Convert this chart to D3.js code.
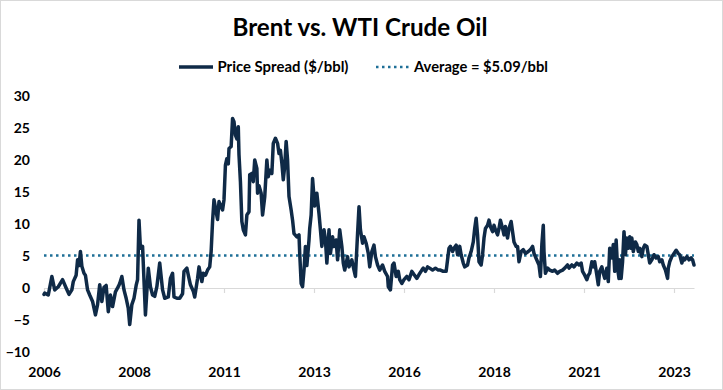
<!DOCTYPE html>
<html>
<head>
<meta charset="utf-8">
<script src="https://cdn.jsdelivr.net/npm/d3@7"></script>
<style>
  html, body { margin: 0; padding: 0; background: #fff; }
  svg text { font-family: Lato, "Open Sans", sans-serif; font-weight: bold; }
</style>
</head>
<body>
<svg id="chart" width="723" height="390"></svg>
<script>
// ---- Data (weekly index since the first week of January 2006) ----
const startDate = "2006-01-06";
const weeks = [
  0,1,6,11,15,20,26,31,35,39,
  41,45,47,49,51,53,56,58,61,64,
  68,72,75,78,81,84,87,90,93,96,
  100,104,106,109,112,115,118,120,123,126,
  129,131,133,135,138,142,146,149,152,155,
  158,162,166,169,174,177,180,182,186,190,
  194,196,200,203,205,209,211,215,217,221,
  223,226,229,232,234,236,238,241,243,245,
  248,250,252,254,256,258,259,262,264,266,
  268,270,272,273,275,277,279,282,284,287,
  288,291,293,295,298,299,301,304,306,309,
  312,314,316,319,321,324,327,329,331,333,
  335,337,339,341,343,346,348,350,354,357,
  358,360,362,364,366,368,371,372,374,376,
  379,382,385,387,389,392,394,396,399,401,
  404,406,409,411,414,417,419,421,425,427,
  431,434,436,439,441,443,446,448,451,454,
  456,459,462,464,467,470,474,477,481,482,
  485,488,490,493,496,498,501,504,508,511,
  515,518,522,525,529,531,534,537,540,544,
  548,552,555,559,563,565,567,569,572,574,
  577,579,582,584,587,589,593,595,598,601,
  603,605,607,609,612,614,616,618,621,623,
  625,628,630,632,635,637,639,642,644,646,
  649,651,654,656,658,661,663,665,668,671,
  674,678,681,684,686,689,691,693,695,697,
  699,700,702,705,708,712,715,719,722,726,
  729,733,735,739,742,746,749,752,754,757,
  760,762,764,767,769,771,774,776,778,781,
  783,785,788,790,792,795,797,799,801,803,
  805,806,808,810,812,814,816,818,820,822,
  823,825,828,830,832,834,837,839,841,844,
  846,848,851,854,857,860,862,865,867,870,
  873,874,876,879,882,885,888,890,893,895,
  897,900,903,906,908,910
];
const spread = [
  -1.0,-0.8,-1.1,1.8,-0.3,0.2,1.3,0.0,-1.0,-0.3,
  1.0,2.0,4.4,3.5,5.7,3.4,2.3,2.0,-0.3,-1.1,
  -2.1,-4.2,-2.6,0.5,-2.1,0.1,0.4,-3.7,-1.1,-2.9,
  -0.6,0.2,0.7,1.8,-0.3,-1.6,-3.2,-5.7,-2.6,-1.6,
  0.4,1.3,10.6,6.2,6.5,-4.2,3.1,0.2,-1.1,-1.3,
  0.2,3.9,-0.3,-1.6,-1.4,1.5,2.3,-1.4,-1.6,-1.6,
  -0.9,2.6,3.1,1.5,0.5,-0.5,-1.4,1.5,3.3,1.0,
  2.3,2.0,2.8,3.3,5.7,10.4,13.8,11.9,10.7,13.5,
  12.7,12.2,13.8,19.2,20.2,19.4,21.8,22.1,26.5,26.0,
  23.9,23.3,25.2,20.8,16.6,10.4,9.1,8.3,11.4,11.9,
  17.7,17.9,16.6,20.0,18.7,14.8,16.0,14.8,11.4,14.2,
  20.0,17.4,18.4,17.9,22.6,23.4,22.6,21.0,21.5,19.5,
  16.9,19.0,22.9,20.0,14.3,12.2,10.6,8.5,8.0,8.3,
  5.4,0.7,0.2,2.8,6.5,3.5,7.5,9.3,11.4,17.1,
  12.8,14.8,11.6,9.1,6.5,9.1,7.5,3.9,9.1,5.4,
  8.0,6.5,7.5,4.4,9.1,6.5,3.9,2.8,4.9,3.3,
  4.4,2.8,1.8,8.5,12.7,9.1,7.0,8.0,7.0,5.4,
  3.3,5.7,6.7,4.9,3.6,2.8,3.6,2.6,1.8,0.2,
  -0.3,3.6,3.9,1.8,2.6,1.3,0.7,1.3,1.8,1.3,
  2.6,2.1,1.5,2.1,2.8,3.1,2.6,3.3,3.1,2.8,
  3.1,2.8,2.8,2.6,2.6,4.4,6.2,6.5,5.7,6.2,
  6.7,5.2,6.5,5.2,3.9,3.3,3.6,4.7,5.7,7.2,
  9.3,10.9,8.3,4.1,3.6,5.2,7.8,9.3,9.8,10.6,
  9.6,8.8,9.8,9.1,8.3,9.3,10.6,9.3,8.3,9.6,
  7.8,9.3,10.4,8.8,7.2,6.5,6.5,4.1,5.7,6.0,
  5.4,5.7,6.0,6.5,5.4,4.6,4.1,3.6,1.8,6.8,
  9.8,5.7,2.3,3.1,2.8,2.6,2.8,2.3,2.6,2.8,
  3.1,3.6,3.1,3.6,3.3,3.9,3.6,3.9,2.6,2.0,
  1.3,2.0,2.3,4.1,3.3,4.1,2.0,0.5,2.6,3.3,
  2.3,1.5,3.1,1.0,6.2,4.7,6.8,2.6,7.5,3.1,
  1.5,4.4,1.5,4.1,8.8,5.2,7.8,6.2,8.0,6.2,
  7.8,5.7,7.2,6.8,5.7,6.2,4.9,6.2,6.7,6.5,
  5.2,3.9,4.4,5.2,4.7,4.9,4.1,4.4,3.6,2.8,
  1.5,3.1,4.1,4.9,5.4,5.9,5.4,5.2,3.9,4.7,
  4.4,4.9,4.4,4.7,4.4,3.6
];
const average = 5.09;
const yTicks = [-10, -5, 0, 5, 10, 15, 20, 25, 30];
const xTickWeeks = [0, 126, 252, 378, 504, 630, 756, 882];
const xTickLabels = ["2006", "2008", "2011", "2013", "2016", "2018", "2021", "2023"];
const titleText = "Brent vs. WTI Crude Oil";
const seriesName = "Price Spread ($/bbl)";
const averageName = "Average = $" + average.toFixed(2) + "/bbl";

// ---- Drawing ----
const W = 723, H = 390;
const lineColor = "#0f2a47";
const avgColor = "#1e6f97";
const svg = d3.select("#chart");

svg.append("rect").attr("x", 0.5).attr("y", 0.5).attr("width", W - 1).attr("height", H - 1)
  .attr("fill", "#fff").attr("stroke", "#d9d9d9");

const x = d3.scaleLinear().domain([0, 910]).range([44, 694]);
const y = d3.scaleLinear().domain([-10, 30]).range([352, 96]);

// fit a text element's font size so its width matches a target width
function fitWidth(sel, target) {
  const fs = +sel.attr("font-size");
  const w = sel.node().getComputedTextLength();
  if (w > 0) sel.attr("font-size", (fs * target / w).toFixed(2));
}

// Title
const title = svg.append("text").attr("x", 360).attr("y", 36).attr("text-anchor", "middle")
  .attr("font-size", 24).attr("fill", "#000").text(titleText);
fitWidth(title, 255);

// Legend
const leg = svg.append("g");
leg.append("line").attr("x1", 179).attr("x2", 213).attr("y1", 67).attr("y2", 67)
  .attr("stroke", lineColor).attr("stroke-width", 3.5);
const t1 = leg.append("text").attr("x", 217.5).attr("y", 71.5).attr("font-size", 14).attr("fill", "#000").text(seriesName);
fitWidth(t1, 131);
leg.append("line").attr("x1", 376).attr("x2", 409).attr("y1", 67).attr("y2", 67)
  .attr("stroke", avgColor).attr("stroke-width", 2.5).attr("stroke-dasharray", "2.5,3.5");
const t2 = leg.append("text").attr("x", 414).attr("y", 71.5).attr("font-size", 14).attr("fill", "#000").text(averageName);
fitWidth(t2, 134);

// Y axis labels
const yAxis = svg.append("g").attr("transform", "translate(30,0)")
  .call(d3.axisLeft(y).tickValues(yTicks).tickSize(0).tickPadding(0).tickFormat(d3.format("d")));
yAxis.select(".domain").remove();
yAxis.selectAll("text").attr("font-size", 14).attr("fill", "#000")
  .style("font-family", "Lato, sans-serif").style("font-weight", "bold");

// Zero axis line with tick marks
const zeroAxis = svg.append("g").attr("transform", `translate(0,${y(0)})`)
  .call(d3.axisBottom(x).tickValues(xTickWeeks).tickSize(5).tickSizeOuter(0).tickFormat(""));
zeroAxis.select(".domain").attr("stroke", "#d9d9d9").attr("stroke-width", 1.2);
zeroAxis.selectAll(".tick line").attr("stroke", "#d9d9d9").attr("stroke-width", 1.2);

// X labels (low position)
const xLab = svg.append("g").attr("transform", "translate(0,364)")
  .call(d3.axisBottom(x).tickValues(xTickWeeks).tickSize(0).tickPadding(3)
    .tickFormat(d => xTickLabels[xTickWeeks.indexOf(d)]));
xLab.select(".domain").remove();
xLab.selectAll("text").attr("font-size", 14).attr("fill", "#000")
  .style("font-family", "Lato, sans-serif").style("font-weight", "bold");

// Average line
svg.append("line").attr("x1", x(0)).attr("x2", x(910)).attr("y1", y(average)).attr("y2", y(average))
  .attr("stroke", avgColor).attr("stroke-width", 2.5).attr("stroke-dasharray", "2.5,3.5");

// Spread line
const line = d3.line().x((d, i) => x(weeks[i])).y((d, i) => y(spread[i]));
svg.append("path").datum(spread).attr("d", line)
  .attr("fill", "none").attr("stroke", lineColor).attr("stroke-width", 3.5)
  .attr("stroke-linejoin", "round").attr("stroke-linecap", "round");
</script>
</body>
</html>
